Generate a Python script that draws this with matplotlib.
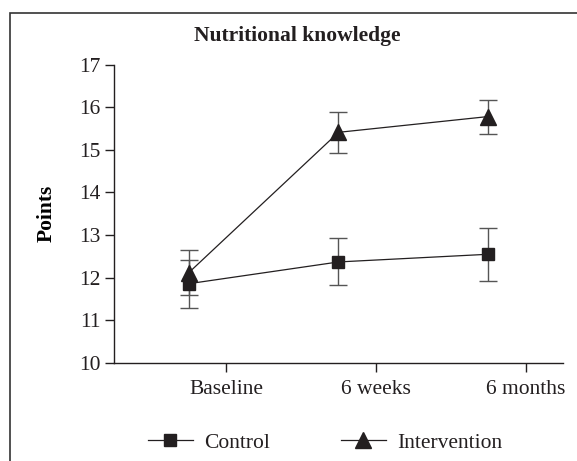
import matplotlib
matplotlib.use('Agg')
import matplotlib.pyplot as plt
from matplotlib.patches import Rectangle

# data
timepoints = ['Baseline', '6 weeks', '6 months']
control_mean = [11.86, 12.37, 12.55]
control_err = [0.56, 0.55, 0.62]
interv_mean = [12.12, 15.41, 15.78]
interv_err = [0.53, 0.48, 0.40]

INK = '#231f20'
FS = 15.5
plt.rcParams['font.family'] = ['Liberation Serif', 'DejaVu Serif']
plt.rcParams['text.color'] = INK
plt.rcParams['axes.edgecolor'] = INK
plt.rcParams['xtick.color'] = INK
plt.rcParams['ytick.color'] = INK

fig = plt.figure(figsize=(5.77, 4.61), dpi=100)
ax = fig.add_axes([0.1976, 0.2126, 0.7781, 0.6474])

x = list(range(len(timepoints)))

ax.errorbar(x, control_mean, yerr=control_err, fmt='-s', color=INK,
            ecolor='#555555', elinewidth=1.0, capsize=6.2, capthick=1.0,
            markersize=8.6, linewidth=0.9, label='Control')
ax.errorbar(x, interv_mean, yerr=interv_err, fmt='-^', color=INK,
            ecolor='#555555', elinewidth=1.0, capsize=6.2, capthick=1.0,
            markersize=11, linewidth=0.9, label='Intervention')

ax.set_xlim(-0.5, 2.5)
ax.set_ylim(10, 17)
ax.set_yticks(range(10, 18))
ax.set_xticks([i + 0.25 for i in x])
ax.set_xticklabels(timepoints)

ax.spines['top'].set_visible(False)
ax.spines['right'].set_visible(False)
ax.spines['left'].set_linewidth(1.0)
ax.spines['bottom'].set_linewidth(1.0)
ax.tick_params(axis='both', direction='out', length=6.5, width=1.0, labelsize=FS)
ax.tick_params(axis='y', pad=3)
ax.tick_params(axis='x', pad=6)

ax.set_ylabel('Points', fontsize=FS, fontweight='bold', labelpad=16)
fig.text(0.515, 0.922, 'Nutritional knowledge', ha='center', va='center',
         fontsize=FS, fontweight='bold')

handles, labels = ax.get_legend_handles_labels()
handles = [h[0] for h in handles]
fig.legend(handles, labels, loc='center', bbox_to_anchor=(0.563, 0.040), ncol=2,
           frameon=False, fontsize=FS, handlelength=2.1, handletextpad=0.5,
           columnspacing=3.3)

# frame around the whole figure (cut at right and bottom)
fig.patches.append(Rectangle((10 / 577, -0.05), 1.1, 1 - 13 / 461 + 0.05,
                             transform=fig.transFigure, fill=False,
                             edgecolor='#333333', linewidth=1.2))

fig.savefig('out.png', dpi=100)
